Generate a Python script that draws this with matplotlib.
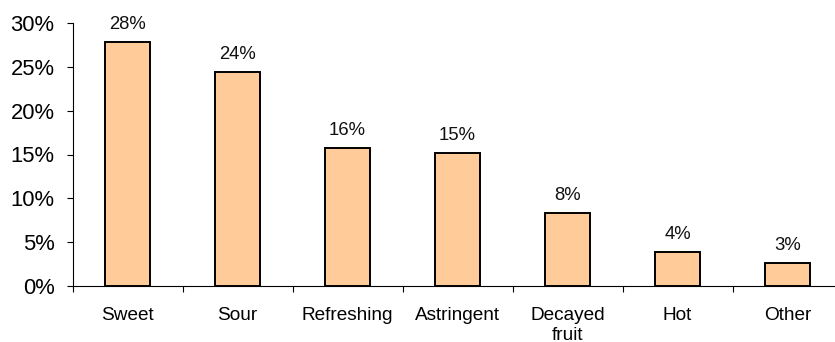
import matplotlib
matplotlib.use("Agg")
import matplotlib.pyplot as plt
from matplotlib.ticker import FuncFormatter, FixedLocator
import numpy as np

categories = ["Sweet", "Sour", "Refreshing", "Astringent", "Decayed\nfruit", "Hot", "Other"]
shares = [27.86, 24.4, 15.7, 15.2, 8.28, 3.89, 2.63]  # percent
y_ticks = [0, 5, 10, 15, 20, 25, 30]

plt.rcParams["font.family"] = ["Liberation Sans", "DejaVu Sans"]

W, H = 835, 342
fig = plt.figure(figsize=(W / 100, H / 100), dpi=100)
ax = fig.add_axes([72.5 / W, (H - 285.7) / H, 770 / W, 262.4 / H])

x = np.arange(len(categories))
bars = ax.bar(x, shares, width=0.41, color="#FFCC99", edgecolor="black", linewidth=1.4, zorder=2)

for xi, v in zip(x, shares):
    ax.annotate(f"{round(v):d}%", (xi, v), xytext=(0, 9.4), textcoords="offset points",
                ha="center", va="baseline", fontsize=13.3, color="#111111")

ax.set_xlim(-0.5, len(categories) - 0.5)
ax.set_ylim(0, 30)
ax.set_yticks(y_ticks)
ax.yaxis.set_major_formatter(FuncFormatter(lambda v, p: f"{v:.0f}%"))
ax.tick_params(axis="y", labelsize=15.8, length=4.3, width=0.8, pad=8.6, colors="black")

ax.set_xticks(x)
ax.set_xticklabels(categories, fontsize=13.7, linespacing=1.25)
ax.xaxis.set_minor_locator(FixedLocator(np.arange(-0.5, len(categories), 1.0)))
ax.tick_params(axis="x", which="major", length=0, pad=15)
ax.tick_params(axis="x", which="minor", length=4.3, width=0.8, color="black")

for side in ("top", "right"):
    ax.spines[side].set_visible(False)
for side in ("left", "bottom"):
    ax.spines[side].set_linewidth(0.8)
    ax.spines[side].set_color("black")

fig.savefig("out.png", dpi=100)
